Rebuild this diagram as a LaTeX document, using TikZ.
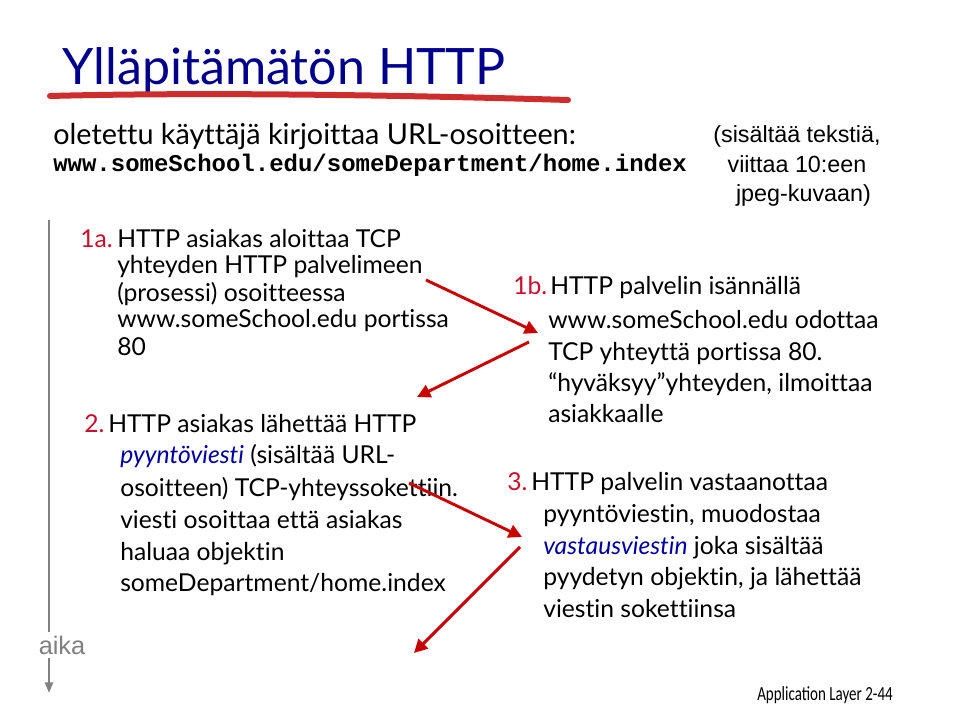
\documentclass[tikz,border=0pt]{standalone}
\usepackage{fontspec}
\setmainfont{Lato}[Ligatures=NoCommon]
\newfontfamily\arialf{Liberation Sans}
\newfontfamily\courf{Liberation Mono}
\newfontfamily\footf{Carlito}
\usetikzlibrary{arrows.meta}
\definecolor{titleblue}{RGB}{0,0,140}
\definecolor{numred}{RGB}{200,16,46}
\definecolor{arrred}{RGB}{200,0,0}
\definecolor{brushred}{RGB}{205,45,45}
\definecolor{msgblue}{RGB}{0,0,160}
\definecolor{timegray}{RGB}{128,128,128}
\newcommand{\bodysz}{\fontsize{18.5}{22}\selectfont}
\newcommand{\msg}[1]{\textcolor{msgblue}{\itshape #1}}
\begin{document}
\begin{tikzpicture}[x=0.75pt,y=-0.75pt,
  txt/.style={anchor=base west,inner sep=0pt,font=\bodysz},
  num/.style={txt,text=numred},
  arr/.style={draw=arrred,line width=2.2pt,-{Triangle[length=10pt,width=10pt]}}]
\useasboundingbox[fill=white] (0,0) rectangle (960,720);

% title
\node[anchor=base west,inner sep=0pt,font=\fontsize{37.6}{42}\selectfont,text=titleblue] (title) at (62,85) {Ylläpitämätön HTTP};
\coordinate (ul0) at (50,96);
\coordinate (ul1) at (568,100);
\draw[brushred,line width=4.5pt,line cap=round] (ul0) .. controls (200,92) and (400,95) .. (ul1);

% intro
\node[anchor=base west,inner sep=0pt,font=\fontsize{21.6}{24}\selectfont] (intro) at (53,145) {oletettu käyttäjä kirjoittaa URL-osoitteen:};
\node[anchor=base west,inner sep=0pt,font=\courf\bfseries\fontsize{18}{20}\selectfont] (url) at (53,172) {www.someSchool.edu/someDepartment/home.index};
\node[align=center,inner sep=0pt,font=\arialf\fontsize{17.5}{22}\selectfont] (note) at (797,166) {(sisältää tekstiä,\\viittaa 10:een\\\ \ jpeg-kuvaan)};

% time line
\coordinate (tl0) at (49,220);
\coordinate (tl1) at (49,693);
\draw[timegray,line width=1.6pt,-{Triangle[length=8pt,width=6pt]}] (tl0) -- (tl1);
\node[fill=white,inner xsep=0pt,inner ysep=3pt,text=timegray,font=\arialf\fontsize{19}{20}\selectfont] (aika) at (62,645) {aika};

% 1a
\node[num] (n1a) at (80,248) {1a.};
\node[txt] (l1a1) at (117,248) {HTTP asiakas aloittaa TCP};
\node[txt] (l1a2) at (117,274) {yhteyden HTTP palvelimeen};
\node[txt] (l1a3) at (117,301) {(prosessi) osoitteessa};
\node[txt] (l1a4) at (117,327) {www.someSchool.edu portissa};
\node[txt] (l1a5) at (117,355) {80};

% 1b
\node[num] (n1b) at (513,295) {1b.};
\node[txt] (l1b1) at (550,295) {HTTP palvelin isännällä};
\node[txt] (l1b2) at (548,328) {www.someSchool.edu odottaa};
\node[txt] (l1b3) at (548,360) {TCP yhteyttä portissa 80.};
\node[txt] (l1b4) at (548,391) {“hyväksyy”yhteyden, ilmoittaa};
\node[txt] (l1b5) at (548,422) {asiakkaalle};

% 2
\node[num] (n2) at (84,432) {2.};
\node[txt] (l21) at (108,432) {HTTP asiakas lähettää HTTP};
\node[txt] (l22) at (120,463) {\msg{pyyntöviesti} (sisältää URL-};
\node[txt] (l23) at (120,496) {osoitteen) TCP-yhteyssokettiin.};
\node[txt] (l24) at (120,528) {viesti osoittaa että asiakas};
\node[txt] (l25) at (120,560) {haluaa objektin};
\node[txt] (l26) at (120,591) {someDepartment/home.index};

% 3
\node[num] (n3) at (507,490) {3.};
\node[txt] (l31) at (531,490) {HTTP palvelin vastaanottaa};
\node[txt] (l32) at (543,522) {pyyntöviestin, muodostaa};
\node[txt] (l33) at (543,554) {\msg{vastausviestin} joka sisältää};
\node[txt] (l34) at (543,585) {pyydetyn objektin, ja lähettää};
\node[txt] (l35) at (543,617) {viestin sokettiinsa};

% arrows
\coordinate (a1s) at (426,280);
\coordinate (a1e) at (538,333);
\coordinate (a2s) at (529,342);
\coordinate (a2e) at (417,397);
\coordinate (a3s) at (409,483);
\coordinate (a3e) at (522,537);
\coordinate (a4s) at (520,547);
\coordinate (a4e) at (414,653);
\draw[arr] (a1s) -- (a1e);
\draw[arr] (a2s) -- (a2e);
\draw[arr] (a3s) -- (a3e);
\draw[arr] (a4s) -- (a4e);

% footer
\node[anchor=base east,inner sep=0pt,font=\footf\fontsize{15}{18}\selectfont] (foot) at (893,700) {\scalebox{0.75}[1]{Application Layer 2-44}};
\end{tikzpicture}
\end{document}
